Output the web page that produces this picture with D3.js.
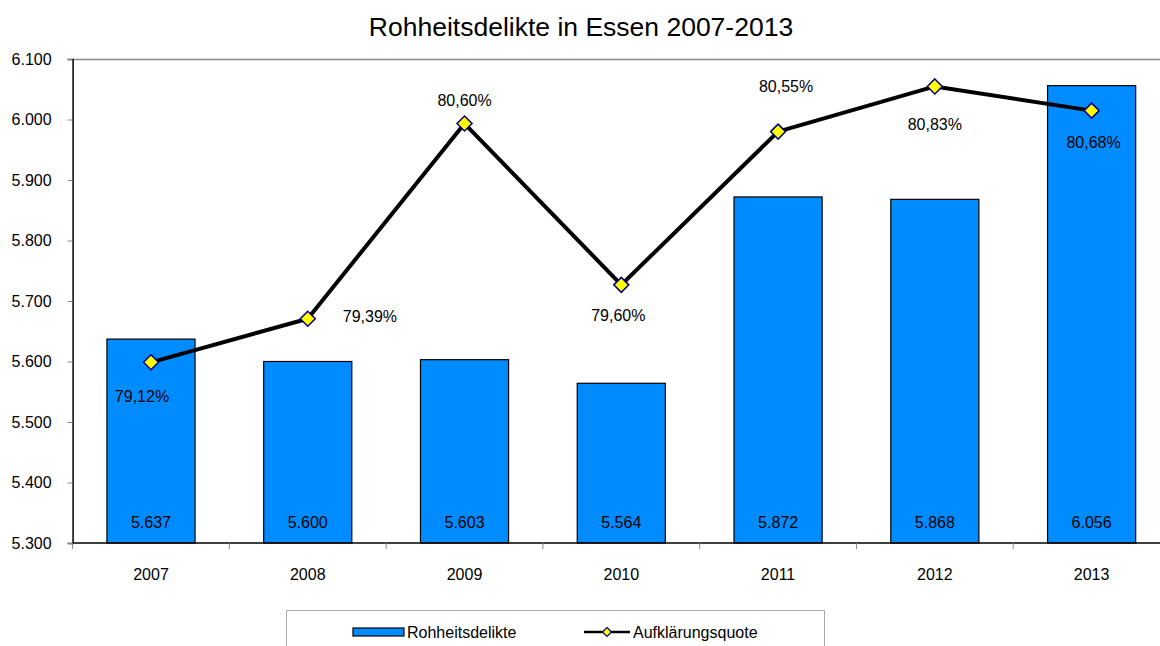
<!DOCTYPE html>
<html>
<head>
<meta charset="utf-8">
<script src="https://cdn.jsdelivr.net/npm/d3@7"></script>
<style>
  html, body { margin: 0; padding: 0; background: #fff; }
  svg { display: block; font-family: "Liberation Sans", Arial, sans-serif; }
</style>
</head>
<body>
<svg id="chart" width="1160" height="646"></svg>
<script>
// Jahre
const years = ["2007", "2008", "2009", "2010", "2011", "2012", "2013"];
// Rohheitsdelikte (Anzahl)
const offences = [5637, 5600, 5603, 5564, 5872, 5868, 6056];
// Aufklärungsquote in %
const clearance = [79.12, 79.39, 80.60, 79.60, 80.55, 80.83, 80.68];
// Achsenbeschriftung
const yTicks = [5300, 5400, 5500, 5600, 5700, 5800, 5900, 6000, 6100];

// Lage der Prozent-Beschriftungen relativ zum Punkt
const pctLabelOffset = [[-9, 34], [35, -2], [0, -23], [-3, 31], [8, -45], [0, 38], [2, 32]];

(function () {
const svg = d3.select("#chart");
const plotLeft = 72.6, plotTop = 59, plotBottom = 543, plotRight = 1170;
const fs = 16;

const x = d3.scaleBand().domain(years).range([plotLeft, plotRight]).paddingInner(0).paddingOuter(0);
const y = d3.scaleLinear().domain([5300, 6100]).range([plotBottom, plotTop]);
const y2 = d3.scaleLinear().domain([78, 81]).range([plotBottom, plotTop]);
const barW = x.bandwidth() * 0.562;
const de = d3.formatLocale({decimal: ",", thousands: ".", grouping: [3], currency: ["", "€"]});
const fmtTick = v => de.format(",")(v);
const fmtPct = v => de.format(".2f")(v) + "%";

// Titel
svg.append("text").attr("x", 581).attr("y", 36).attr("text-anchor", "middle")
  .attr("font-size", 26.5).attr("fill", "#000").text("Rohheitsdelikte in Essen 2007-2013");

// Rahmen oben
svg.append("line").attr("x1", plotLeft).attr("x2", plotRight).attr("y1", plotTop + 0.5).attr("y2", plotTop + 0.5)
  .attr("stroke", "#888").attr("stroke-width", 1.5);

// Balken
svg.append("g").selectAll("rect").data(offences).join("rect")
  .attr("x", (d, i) => x(years[i]) + (x.bandwidth() - barW) / 2)
  .attr("y", d => y(d))
  .attr("width", barW)
  .attr("height", d => plotBottom - y(d))
  .attr("fill", "#008cff")
  .attr("stroke", "#000").attr("stroke-width", 1.2);

// Werte in den Balken
svg.append("g").selectAll("text").data(offences).join("text")
  .attr("x", (d, i) => x(years[i]) + x.bandwidth() / 2)
  .attr("y", 528)
  .attr("text-anchor", "middle").attr("font-size", fs).attr("fill", "#000")
  .text(d => fmtTick(d));

// Y-Achse
const yAxis = svg.append("g").attr("transform", `translate(${plotLeft},0)`)
  .call(d3.axisLeft(y).tickValues(yTicks).tickFormat(fmtTick).tickSize(5).tickPadding(16));
yAxis.select(".domain").attr("stroke", "#000").attr("stroke-width", 1.5);
yAxis.selectAll(".tick line").attr("stroke", "#888");
yAxis.selectAll(".tick text").attr("font-size", fs).attr("fill", "#000")
  .attr("font-family", "Liberation Sans, Arial, sans-serif");

// X-Achse mit Teilstrichen an den Kategoriegrenzen
svg.append("line").attr("x1", plotLeft).attr("x2", plotRight).attr("y1", plotBottom).attr("y2", plotBottom)
  .attr("stroke", "#000").attr("stroke-width", 1.5);
svg.append("g").selectAll("line").data(years).join("line")
  .attr("x1", d => x(d)).attr("x2", d => x(d))
  .attr("y1", plotBottom).attr("y2", plotBottom + 6)
  .attr("stroke", "#888");
svg.append("g").selectAll("text").data(years).join("text")
  .attr("x", d => x(d) + x.bandwidth() / 2)
  .attr("y", 580).attr("text-anchor", "middle").attr("font-size", fs).attr("fill", "#000")
  .text(d => d);

// Linie Aufklärungsquote
const px = i => x(years[i]) + x.bandwidth() / 2;
const line = d3.line().x((d, i) => px(i)).y(d => y2(d));
svg.append("path").datum(clearance).attr("d", line)
  .attr("fill", "none").attr("stroke", "#000").attr("stroke-width", 4).attr("stroke-linejoin", "round");

const diamond = (cx, cy, r) => `M${cx},${cy - r}L${cx + r},${cy}L${cx},${cy + r}L${cx - r},${cy}Z`;
svg.append("g").selectAll("path").data(clearance).join("path")
  .attr("d", (d, i) => diamond(px(i), y2(d), 7.5))
  .attr("fill", "#ffff00").attr("stroke", "#000080").attr("stroke-width", 1.5);

svg.append("g").selectAll("text").data(clearance).join("text")
  .attr("x", (d, i) => px(i) + pctLabelOffset[i][0])
  .attr("y", (d, i) => y2(d) + pctLabelOffset[i][1] + 5.5)
  .attr("text-anchor", (d, i) => pctLabelOffset[i][0] > 20 ? "start" : "middle")
  .attr("font-size", fs).attr("fill", "#000")
  .text(d => fmtPct(d));

// Legende
const lg = svg.append("g");
lg.append("rect").attr("x", 286.5).attr("y", 610.5).attr("width", 538).attr("height", 60)
  .attr("fill", "#fff").attr("stroke", "#aaa").attr("stroke-width", 1);
lg.append("rect").attr("x", 353).attr("y", 628).attr("width", 51).attr("height", 8)
  .attr("fill", "#008cff").attr("stroke", "#000").attr("stroke-width", 1.2);
lg.append("text").attr("x", 407).attr("y", 638).attr("font-size", fs).attr("fill", "#000").text("Rohheitsdelikte");
lg.append("line").attr("x1", 584).attr("x2", 630).attr("y1", 632).attr("y2", 632)
  .attr("stroke", "#000").attr("stroke-width", 2.5);
lg.append("path").attr("d", diamond(607, 632, 4.5))
  .attr("fill", "#ffff00").attr("stroke", "#000080").attr("stroke-width", 1.2);
lg.append("text").attr("x", 633).attr("y", 638).attr("font-size", fs).attr("fill", "#000").text("Aufklärungsquote");
})();
</script>
</body>
</html>
